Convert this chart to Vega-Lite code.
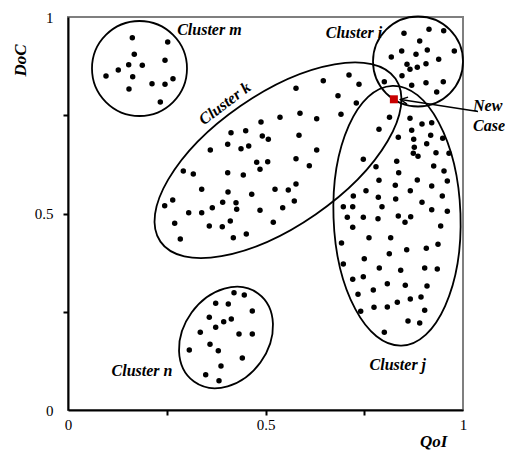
{
  "$schema": "https://vega.github.io/schema/vega-lite/v6.json",
  "autosize": {"type": "none"},
  "width": 395,
  "height": 393,
  "padding": {"left": 68, "top": 17, "right": 42, "bottom": 42},
  "background": "white",
  "config": {
    "view": {"stroke": "#7f7f7f", "strokeWidth": 2},
    "font": "Liberation Serif, Times New Roman, DejaVu Serif, serif"
  },
  "encoding": {
    "x": {
      "field": "qoi", "type": "quantitative",
      "scale": {"domain": [0, 1], "nice": false, "zero": false},
      "axis": {
        "title": "QoI", "grid": false,
        "values": [0, 0.25, 0.5, 0.75, 1],
        "labelExpr": "datum.value == 0 ? '0' : datum.value == 0.5 ? '0.5' : datum.value == 1 ? '1' : ''",
        "labelFlush": false, "labelOverlap": false,
        "labelFont": "Liberation Serif, Times New Roman, DejaVu Serif, serif", "labelFontSize": 15, "labelColor": "black", "labelPadding": 2,
        "tickSize": 5, "tickWidth": 2,
        "tickColor": {"condition": {"test": "datum.value == 0 || datum.value == 1", "value": "transparent"}, "value": "black"},
        "domainColor": "black", "domainWidth": 2,
        "titleFont": "Liberation Serif, Times New Roman, DejaVu Serif, serif", "titleFontSize": 17, "titleFontStyle": "italic", "titleFontWeight": "bold", "titleColor": "black",
        "titleAlign": "right", "titleBaseline": "alphabetic", "titleX": 379, "titleY": 36
      }
    },
    "y": {
      "field": "doc", "type": "quantitative",
      "scale": {"domain": [0, 1], "nice": false, "zero": false},
      "axis": {
        "title": "DoC", "grid": false,
        "values": [0, 0.25, 0.5, 0.75, 1],
        "labelExpr": "datum.value == 0 ? '0' : datum.value == 0.5 ? '0.5' : datum.value == 1 ? '1' : ''",
        "labelFlush": false, "labelOverlap": false,
        "labelFont": "Liberation Serif, Times New Roman, DejaVu Serif, serif", "labelFontSize": 15, "labelColor": "black", "labelPadding": 10,
        "tickSize": 5, "tickWidth": 2,
        "tickColor": {"condition": {"test": "datum.value == 0 || datum.value == 1", "value": "transparent"}, "value": "black"},
        "domainColor": "black", "domainWidth": 2,
        "titleFont": "Liberation Serif, Times New Roman, DejaVu Serif, serif", "titleFontSize": 17, "titleFontStyle": "italic", "titleFontWeight": "bold", "titleColor": "black",
        "titleAngle": 270, "titleAlign": "center", "titleBaseline": "alphabetic", "titleX": -43, "titleY": 43
      }
    }
  },
  "layer": [
    {
      "data": {"values": [{"cluster": "m", "qoi": 0.181, "doc": 0.869}]},
      "mark": {"type": "point", "shape": "circle", "size": 9025, "filled": false, "stroke": "black", "strokeWidth": 1.8, "opacity": 1}
    },
    {
      "data": {"values": [{"cluster": "i", "qoi": 0.8861, "doc": 0.8868}]},
      "mark": {"type": "point", "shape": "circle", "size": 8100, "filled": false, "stroke": "black", "strokeWidth": 1.8, "opacity": 1}
    },
    {
      "data": {"values": [{"cluster": "k", "qoi": 0.5316, "doc": 0.6356}]},
      "mark": {"type": "point", "shape": "M143,0 C143,36.45 78.98,66 0,66 C-78.98,66 -143,36.45 -143,0 C-143,-36.45 -78.98,-66 0,-66 C78.98,-66 143,-36.45 143,0 Z", "size": 4, "angle": 325.3, "filled": false, "stroke": "black", "strokeWidth": 1.8, "opacity": 1}
    },
    {
      "data": {"values": [{"cluster": "j", "qoi": 0.8329, "doc": 0.4943}]},
      "mark": {"type": "point", "shape": "M63.5,0 C63.5,71.8 35.07,130 0,130 C-35.07,130 -63.5,71.8 -63.5,0 C-63.5,-71.8 -35.07,-130 0,-130 C35.07,-130 63.5,-71.8 63.5,0 Z", "size": 4, "angle": 358, "filled": false, "stroke": "black", "strokeWidth": 1.8, "opacity": 1}
    },
    {
      "data": {"values": [{"cluster": "n", "qoi": 0.4, "doc": 0.1845}]},
      "mark": {"type": "point", "shape": "M54.5,0 C54.5,23.47 30.1,42.5 0,42.5 C-30.1,42.5 -54.5,23.47 -54.5,0 C-54.5,-23.47 -30.1,-42.5 0,-42.5 C30.1,-42.5 54.5,-23.47 54.5,0 Z", "size": 4, "angle": 306, "filled": false, "stroke": "black", "strokeWidth": 1.8, "opacity": 1}
    },
    {
      "data": {"values": [
        {"cluster": "m", "qoi": 0.1628, "doc": 0.9473}, {"cluster": "m", "qoi": 0.2524, "doc": 0.9364},
        {"cluster": "m", "qoi": 0.1678, "doc": 0.9051}, {"cluster": "m", "qoi": 0.1537, "doc": 0.8786},
        {"cluster": "m", "qoi": 0.1881, "doc": 0.8771}, {"cluster": "m", "qoi": 0.1273, "doc": 0.8651},
        {"cluster": "m", "qoi": 0.2456, "doc": 0.8898}, {"cluster": "m", "qoi": 0.0962, "doc": 0.8499},
        {"cluster": "m", "qoi": 0.1638, "doc": 0.8481}, {"cluster": "m", "qoi": 0.1544, "doc": 0.8168},
        {"cluster": "m", "qoi": 0.2127, "doc": 0.8303}, {"cluster": "m", "qoi": 0.2456, "doc": 0.8288},
        {"cluster": "m", "qoi": 0.2658, "doc": 0.843}, {"cluster": "m", "qoi": 0.2337, "doc": 0.7837},

        {"cluster": "n", "qoi": 0.4203, "doc": 0.2985}, {"cluster": "n", "qoi": 0.4463, "doc": 0.2926},
        {"cluster": "n", "qoi": 0.3739, "doc": 0.2715}, {"cluster": "n", "qoi": 0.4058, "doc": 0.2697},
        {"cluster": "n", "qoi": 0.4666, "doc": 0.2519}, {"cluster": "n", "qoi": 0.3577, "doc": 0.2359},
        {"cluster": "n", "qoi": 0.4134, "doc": 0.2316}, {"cluster": "n", "qoi": 0.3942, "doc": 0.2247},
        {"cluster": "n", "qoi": 0.3739, "doc": 0.2104}, {"cluster": "n", "qoi": 0.3349, "doc": 0.1977},
        {"cluster": "n", "qoi": 0.4329, "doc": 0.1934}, {"cluster": "n", "qoi": 0.4666, "doc": 0.1934},
        {"cluster": "n", "qoi": 0.3595, "doc": 0.1672}, {"cluster": "n", "qoi": 0.3805, "doc": 0.1509},
        {"cluster": "n", "qoi": 0.3071, "doc": 0.1527}, {"cluster": "n", "qoi": 0.4413, "doc": 0.1323},
        {"cluster": "n", "qoi": 0.3873, "doc": 0.112}, {"cluster": "n", "qoi": 0.3486, "doc": 0.0898},
        {"cluster": "n", "qoi": 0.3823, "doc": 0.0746},

        {"cluster": "k", "qoi": 0.4886, "doc": 0.7328}, {"cluster": "k", "qoi": 0.4127, "doc": 0.7056},
        {"cluster": "k", "qoi": 0.4499, "doc": 0.7107}, {"cluster": "k", "qoi": 0.4919, "doc": 0.6972},
        {"cluster": "k", "qoi": 0.3603, "doc": 0.6616}, {"cluster": "k", "qoi": 0.4043, "doc": 0.6761},
        {"cluster": "k", "qoi": 0.438, "doc": 0.6649}, {"cluster": "k", "qoi": 0.4575, "doc": 0.6718},
        {"cluster": "k", "qoi": 0.5071, "doc": 0.6888},
        {"cluster": "k", "qoi": 0.7114, "doc": 0.8524}, {"cluster": "k", "qoi": 0.6463, "doc": 0.8379},
        {"cluster": "k", "qoi": 0.7367, "doc": 0.8288}, {"cluster": "k", "qoi": 0.5772, "doc": 0.8186},
        {"cluster": "k", "qoi": 0.6835, "doc": 0.7997}, {"cluster": "k", "qoi": 0.7299, "doc": 0.7812},
        {"cluster": "k", "qoi": 0.5367, "doc": 0.7448}, {"cluster": "k", "qoi": 0.5873, "doc": 0.755},
        {"cluster": "k", "qoi": 0.6296, "doc": 0.7412}, {"cluster": "k", "qoi": 0.6911, "doc": 0.7524},
        {"cluster": "k", "qoi": 0.5848, "doc": 0.699}, {"cluster": "k", "qoi": 0.6296, "doc": 0.6616},
        {"cluster": "k", "qoi": 0.5772, "doc": 0.6394}, {"cluster": "k", "qoi": 0.8008, "doc": 0.8354},
        {"cluster": "k", "qoi": 0.2919, "doc": 0.6081}, {"cluster": "k", "qoi": 0.3172, "doc": 0.6005},
        {"cluster": "k", "qoi": 0.4043, "doc": 0.6038}, {"cluster": "k", "qoi": 0.4438, "doc": 0.598},
        {"cluster": "k", "qoi": 0.4777, "doc": 0.6303}, {"cluster": "k", "qoi": 0.4861, "doc": 0.6125},
        {"cluster": "k", "qoi": 0.3385, "doc": 0.5616}, {"cluster": "k", "qoi": 0.4051, "doc": 0.5547},
        {"cluster": "k", "qoi": 0.4651, "doc": 0.5489}, {"cluster": "k", "qoi": 0.2651, "doc": 0.5344},
        {"cluster": "k", "qoi": 0.2448, "doc": 0.5198}, {"cluster": "k", "qoi": 0.3916, "doc": 0.5285},
        {"cluster": "k", "qoi": 0.4253, "doc": 0.5275}, {"cluster": "k", "qoi": 0.3653, "doc": 0.5148},
        {"cluster": "k", "qoi": 0.4271, "doc": 0.5107}, {"cluster": "k", "qoi": 0.3056, "doc": 0.502},
        {"cluster": "k", "qoi": 0.3385, "doc": 0.502}, {"cluster": "k", "qoi": 0.4861, "doc": 0.5081},
        {"cluster": "k", "qoi": 0.2701, "doc": 0.4751}, {"cluster": "k", "qoi": 0.3577, "doc": 0.4682},
        {"cluster": "k", "qoi": 0.3906, "doc": 0.4664}, {"cluster": "k", "qoi": 0.4109, "doc": 0.4809},
        {"cluster": "k", "qoi": 0.2843, "doc": 0.4351}, {"cluster": "k", "qoi": 0.4185, "doc": 0.4384},
        {"cluster": "k", "qoi": 0.4514, "doc": 0.4478}, {"cluster": "k", "qoi": 0.5056, "doc": 0.6318},
        {"cluster": "k", "qoi": 0.6109, "doc": 0.6216}, {"cluster": "k", "qoi": 0.5241, "doc": 0.5616},
        {"cluster": "k", "qoi": 0.5577, "doc": 0.5598}, {"cluster": "k", "qoi": 0.5772, "doc": 0.5751},
        {"cluster": "k", "qoi": 0.5729, "doc": 0.5318}, {"cluster": "k", "qoi": 0.5435, "doc": 0.5148},
        {"cluster": "k", "qoi": 0.5197, "doc": 0.4776},

        {"cluster": "i", "qoi": 0.8506, "doc": 0.9585}, {"cluster": "i", "qoi": 0.9139, "doc": 0.9687},
        {"cluster": "i", "qoi": 0.9511, "doc": 0.9651}, {"cluster": "i", "qoi": 0.8904, "doc": 0.9389},
        {"cluster": "i", "qoi": 0.978, "doc": 0.9135}, {"cluster": "i", "qoi": 0.8448, "doc": 0.9135},
        {"cluster": "i", "qoi": 0.881, "doc": 0.9051}, {"cluster": "i", "qoi": 0.9096, "doc": 0.916},
        {"cluster": "i", "qoi": 0.8185, "doc": 0.8982}, {"cluster": "i", "qoi": 0.9385, "doc": 0.8924},
        {"cluster": "i", "qoi": 0.8582, "doc": 0.8796}, {"cluster": "i", "qoi": 0.9063, "doc": 0.8812},
        {"cluster": "i", "qoi": 0.8843, "doc": 0.872}, {"cluster": "i", "qoi": 0.8658, "doc": 0.8669},
        {"cluster": "i", "qoi": 0.8456, "doc": 0.8506}, {"cluster": "i", "qoi": 0.8701, "doc": 0.8262},
        {"cluster": "i", "qoi": 0.9063, "doc": 0.8328}, {"cluster": "i", "qoi": 0.9501, "doc": 0.8354},
        {"cluster": "i", "qoi": 0.9334, "doc": 0.8092},

        {"cluster": "j", "qoi": 0.8139, "doc": 0.7448}, {"cluster": "j", "qoi": 0.7873, "doc": 0.7142},
        {"cluster": "j", "qoi": 0.8658, "doc": 0.7422}, {"cluster": "j", "qoi": 0.8962, "doc": 0.7277},
        {"cluster": "j", "qoi": 0.9208, "doc": 0.731}, {"cluster": "j", "qoi": 0.8701, "doc": 0.7117},
        {"cluster": "j", "qoi": 0.8362, "doc": 0.6939}, {"cluster": "j", "qoi": 0.9182, "doc": 0.699},
        {"cluster": "j", "qoi": 0.9486, "doc": 0.6913}, {"cluster": "j", "qoi": 0.8752, "doc": 0.6888},
        {"cluster": "j", "qoi": 0.9081, "doc": 0.6776}, {"cluster": "j", "qoi": 0.8767, "doc": 0.6685},
        {"cluster": "j", "qoi": 0.8742, "doc": 0.6532}, {"cluster": "j", "qoi": 0.8861, "doc": 0.6455},
        {"cluster": "j", "qoi": 0.9316, "doc": 0.6547}, {"cluster": "j", "qoi": 0.9646, "doc": 0.6532},
        {"cluster": "j", "qoi": 0.7476, "doc": 0.6379}, {"cluster": "j", "qoi": 0.8322, "doc": 0.6328},
        {"cluster": "j", "qoi": 0.7797, "doc": 0.6191}, {"cluster": "j", "qoi": 0.9258, "doc": 0.6209},
        {"cluster": "j", "qoi": 0.9519, "doc": 0.6081}, {"cluster": "j", "qoi": 0.8372, "doc": 0.6038},
        {"cluster": "j", "qoi": 0.7873, "doc": 0.5845}, {"cluster": "j", "qoi": 0.8843, "doc": 0.5852},
        {"cluster": "j", "qoi": 0.9603, "doc": 0.5827}, {"cluster": "j", "qoi": 0.8286, "doc": 0.5718},
        {"cluster": "j", "qoi": 0.9208, "doc": 0.57}, {"cluster": "j", "qoi": 0.7544, "doc": 0.558},
        {"cluster": "j", "qoi": 0.8666, "doc": 0.558}, {"cluster": "j", "qoi": 0.7223, "doc": 0.5445},
        {"cluster": "j", "qoi": 0.7856, "doc": 0.5412}, {"cluster": "j", "qoi": 0.8296, "doc": 0.5369},
        {"cluster": "j", "qoi": 0.9476, "doc": 0.5445}, {"cluster": "j", "qoi": 0.8962, "doc": 0.5285},
        {"cluster": "j", "qoi": 0.697, "doc": 0.5173}, {"cluster": "j", "qoi": 0.7208, "doc": 0.5173},
        {"cluster": "j", "qoi": 0.7949, "doc": 0.5173}, {"cluster": "j", "qoi": 0.9208, "doc": 0.5097},
        {"cluster": "j", "qoi": 0.9603, "doc": 0.5056}, {"cluster": "j", "qoi": 0.7071, "doc": 0.4903},
        {"cluster": "j", "qoi": 0.7476, "doc": 0.4903}, {"cluster": "j", "qoi": 0.7848, "doc": 0.4868},
        {"cluster": "j", "qoi": 0.8362, "doc": 0.4936}, {"cluster": "j", "qoi": 0.8676, "doc": 0.4919},
        {"cluster": "j", "qoi": 0.8532, "doc": 0.4776}, {"cluster": "j", "qoi": 0.7208, "doc": 0.4649},
        {"cluster": "j", "qoi": 0.9435, "doc": 0.4682}, {"cluster": "j", "qoi": 0.762, "doc": 0.4384},
        {"cluster": "j", "qoi": 0.8169, "doc": 0.4384}, {"cluster": "j", "qoi": 0.6924, "doc": 0.4249},
        {"cluster": "j", "qoi": 0.8134, "doc": 0.3977}, {"cluster": "j", "qoi": 0.8575, "doc": 0.4079},
        {"cluster": "j", "qoi": 0.9071, "doc": 0.4115}, {"cluster": "j", "qoi": 0.9367, "doc": 0.4216},
        {"cluster": "j", "qoi": 0.7501, "doc": 0.385}, {"cluster": "j", "qoi": 0.697, "doc": 0.3715},
        {"cluster": "j", "qoi": 0.7881, "doc": 0.3613}, {"cluster": "j", "qoi": 0.8423, "doc": 0.3555},
        {"cluster": "j", "qoi": 0.903, "doc": 0.3613}, {"cluster": "j", "qoi": 0.9349, "doc": 0.3588},
        {"cluster": "j", "qoi": 0.7208, "doc": 0.3326}, {"cluster": "j", "qoi": 0.7476, "doc": 0.3392},
        {"cluster": "j", "qoi": 0.8084, "doc": 0.3214}, {"cluster": "j", "qoi": 0.8539, "doc": 0.3173},
        {"cluster": "j", "qoi": 0.9089, "doc": 0.3155}, {"cluster": "j", "qoi": 0.7342, "doc": 0.2944},
        {"cluster": "j", "qoi": 0.7729, "doc": 0.3053}, {"cluster": "j", "qoi": 0.8084, "doc": 0.2621},
        {"cluster": "j", "qoi": 0.8337, "doc": 0.274}, {"cluster": "j", "qoi": 0.8666, "doc": 0.2824},
        {"cluster": "j", "qoi": 0.8937, "doc": 0.2875}, {"cluster": "j", "qoi": 0.741, "doc": 0.2511},
        {"cluster": "j", "qoi": 0.7747, "doc": 0.2613}, {"cluster": "j", "qoi": 0.903, "doc": 0.2537},
        {"cluster": "j", "qoi": 0.8608, "doc": 0.2265}, {"cluster": "j", "qoi": 0.8904, "doc": 0.2214},
        {"cluster": "j", "qoi": 0.8008, "doc": 0.1977}
      ]},
      "mark": {"type": "circle", "size": 30, "color": "black", "opacity": 1}
    },
    {
      "data": {"values": [{"label": "New Case", "qoi": 0.825, "doc": 0.7906}]},
      "mark": {"type": "square", "size": 64, "color": "#c80000", "opacity": 1}
    },
    {
      "data": {"values": [{"qoi": 1.038, "doc": 0.7595, "qoi2": 0.842, "doc2": 0.7901}]},
      "mark": {"type": "rule", "color": "black", "strokeWidth": 1.5},
      "encoding": {
        "x2": {"field": "qoi2"},
        "y2": {"field": "doc2"}
      }
    },
    {
      "data": {"values": [{"qoi": 0.842, "doc": 0.7901}]},
      "mark": {"type": "point", "shape": "M7,-3.5 L0,0 L7,3.5", "size": 4, "angle": 9, "filled": false, "stroke": "black", "strokeWidth": 1.5, "opacity": 1}
    },
    {
      "data": {"values": [
        {"label": "Cluster m", "qoi": 0.358, "doc": 0.967},
        {"label": "Cluster i", "qoi": 0.724, "doc": 0.959},
        {"label": "Cluster j", "qoi": 0.835, "doc": 0.1145},
        {"label": "Cluster n", "qoi": 0.1873, "doc": 0.1005}
      ]},
      "mark": {"type": "text", "font": "Liberation Serif, Times New Roman, DejaVu Serif, serif", "fontSize": 16, "fontStyle": "italic", "fontWeight": "bold", "color": "black", "align": "center", "baseline": "middle"},
      "encoding": {"text": {"field": "label"}}
    },
    {
      "data": {"values": [{"label": "Cluster k", "qoi": 0.397, "doc": 0.78}]},
      "mark": {"type": "text", "font": "Liberation Serif, Times New Roman, DejaVu Serif, serif", "fontSize": 16, "fontStyle": "italic", "fontWeight": "bold", "color": "black", "align": "center", "baseline": "middle", "angle": 323},
      "encoding": {"text": {"field": "label"}}
    },
    {
      "data": {"values": [{"label": "New Case", "qoi": 1.0253, "doc": 0.7723}]},
      "mark": {"type": "text", "font": "Liberation Serif, Times New Roman, DejaVu Serif, serif", "fontSize": 16, "fontStyle": "italic", "fontWeight": "bold", "color": "black", "align": "left", "baseline": "middle", "lineBreak": " ", "lineHeight": 20},
      "encoding": {"text": {"field": "label"}}
    }
  ]
}
